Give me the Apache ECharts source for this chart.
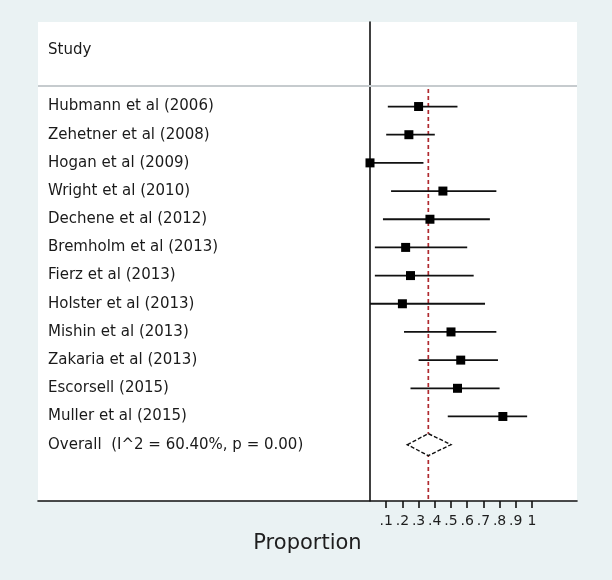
<!DOCTYPE html>
<html>
<head>
<meta charset="utf-8">
<script src="https://cdn.jsdelivr.net/npm/echarts@6/dist/echarts.min.js"></script>
<style>
html,body{margin:0;padding:0;background:#eaf2f3;}
#c{width:612px;height:580px;}
</style>
</head>
<body>
<div id="c"></div>
<script>
// ---- data ----
var studies = [
  'Hubmann et al (2006)',
  'Zehetner et al (2008)',
  'Hogan et al (2009)',
  'Wright et al (2010)',
  'Dechene et al (2012)',
  'Bremholm et al (2013)',
  'Fierz et al (2013)',
  'Holster et al (2013)',
  'Mishin et al (2013)',
  'Zakaria et al (2013)',
  'Escorsell (2015)',
  'Muller et al (2015)'
];
var est = [0.30, 0.24, 0.00, 0.45, 0.37, 0.22, 0.25, 0.20, 0.50, 0.56, 0.54, 0.82];
var lo  = [0.11, 0.10, 0.00, 0.13, 0.08, 0.03, 0.03, 0.00, 0.21, 0.30, 0.25, 0.48];
var hi  = [0.54, 0.40, 0.33, 0.78, 0.74, 0.60, 0.64, 0.71, 0.78, 0.79, 0.80, 0.97];
var overallLabel = 'Overall  (I^2 = 60.40%, p = 0.00)';
var overallEst = 0.36;
var overallLo = 0.23;
var overallHi = 0.50;
var headerLabel = 'Study';
var tickValues = [0.1, 0.2, 0.3, 0.4, 0.5, 0.6, 0.7, 0.8, 0.9, 1];
var tickLabels = ['.1', '.2', '.3', '.4', '.5', '.6', '.7', '.8', '.9', '1'];
var axisTitle = 'Proportion';

// ---- build ----
var FONT = 'DejaVu Sans';
var SEP_Y = 86;
var OFFSET = 3; // first study row index on category axis
var cats = ['', headerLabel, ''].concat(studies).concat([overallLabel, '', '']);
var overallIdx = OFFSET + studies.length;

var ciData = studies.map(function (s, i) { return [lo[i], hi[i], OFFSET + i]; });
var ptData = studies.map(function (s, i) { return [est[i], OFFSET + i]; });

var chart = echarts.init(document.getElementById('c'), null, {renderer: 'canvas'});
chart.setOption({
  backgroundColor: '#eaf2f3',
  animation: false,
  graphic: [{
    type: 'line', z: 5,
    shape: {x1: 38, y1: SEP_Y, x2: 577, y2: SEP_Y},
    style: {stroke: '#c6cbce', lineWidth: 2}
  }],
  grid: [
    {left: 38, right: 35, top: 22, bottom: 79, show: true, backgroundColor: '#ffffff', borderWidth: 0},
    {left: 370, right: 80, top: 22, bottom: 79}
  ],
  xAxis: [
    {gridIndex: 0, type: 'value', min: 0, max: 1,
     axisLine: {show: true, lineStyle: {color: '#111', width: 1.6}},
     axisTick: {show: false}, axisLabel: {show: false}, splitLine: {show: false},
     name: axisTitle, nameLocation: 'middle', nameGap: 32,
     nameTextStyle: {fontFamily: FONT, fontSize: 21, color: '#1e1e1e'}},
    {gridIndex: 1, type: 'value', min: 0, max: 1,
     axisLine: {show: false},
     axisTick: {show: true, length: 7, customValues: tickValues, lineStyle: {color: '#111', width: 1.6}},
     axisLabel: {show: true, customValues: tickValues, margin: 13,
       fontFamily: FONT, fontSize: 14, color: '#1e1e1e',
       formatter: function (v) {
         var k = tickValues.findIndex(function (t) { return Math.abs(t - v) < 1e-6; });
         return k >= 0 ? tickLabels[k] : '';
       }},
     splitLine: {show: false}}
  ],
  yAxis: [
    {gridIndex: 0, type: 'value', show: false, min: 0, max: 1},
    {gridIndex: 1, type: 'category', data: cats, inverse: true, boundaryGap: false,
     axisLine: {show: true, lineStyle: {color: '#111', width: 1.6}},
     axisTick: {show: false},
     axisLabel: {show: true, align: 'left', margin: 322, interval: 0,
       fontFamily: FONT, fontSize: 15, color: '#1a1a1a'},
     splitLine: {show: false}}
  ],
  series: [
    {
      type: 'custom', xAxisIndex: 1, yAxisIndex: 1, z: 3,
      data: [[overallEst]],
      renderItem: function (params, api) {
        var x = api.coord([api.value(0), 0])[0];
        var cs = params.coordSys;
        return {type: 'line', shape: {x1: x, y1: SEP_Y + 3, x2: x, y2: cs.y + cs.height},
          style: {stroke: '#b02a30', lineWidth: 1.7, lineDash: [4, 3]}};
      }
    },
    {
      type: 'custom', xAxisIndex: 1, yAxisIndex: 1, z: 4,
      data: ciData,
      renderItem: function (params, api) {
        var p1 = api.coord([api.value(0), api.value(2)]);
        var p2 = api.coord([api.value(1), api.value(2)]);
        return {type: 'line', shape: {x1: p1[0], y1: p1[1], x2: p2[0], y2: p2[1]},
          style: {stroke: '#111', lineWidth: 1.8}};
      }
    },
    {
      type: 'scatter', xAxisIndex: 1, yAxisIndex: 1, z: 5,
      symbol: 'rect', symbolSize: 9,
      itemStyle: {color: '#000', opacity: 1},
      data: ptData
    },
    {
      type: 'custom', xAxisIndex: 1, yAxisIndex: 1, z: 5,
      data: [[overallLo, overallEst, overallHi, overallIdx]],
      renderItem: function (params, api) {
        var y = api.value(3);
        var l = api.coord([api.value(0), y]);
        var c = api.coord([api.value(1), y]);
        var r = api.coord([api.value(2), y]);
        var h = 11;
        return {type: 'polygon',
          shape: {points: [[l[0], l[1]], [c[0], c[1] - h], [r[0], r[1]], [c[0], c[1] + h]]},
          style: {fill: '#ffffff', stroke: '#111', lineWidth: 1.4, lineDash: [4, 2]}};
      }
    }
  ]
});
</script>
</body>
</html>
